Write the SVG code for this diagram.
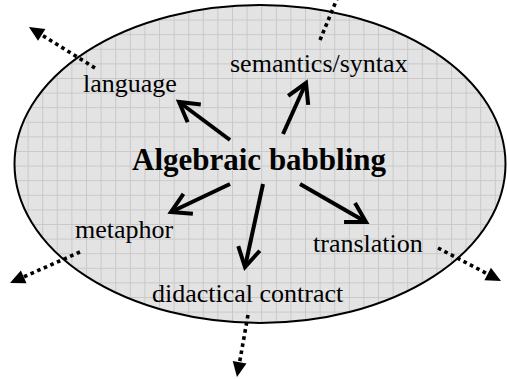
<svg xmlns="http://www.w3.org/2000/svg" width="507" height="379" viewBox="0 0 507 379">
<style>
.lbl{font-family:"Liberation Serif","Times New Roman",serif;font-size:26px;fill:#000}
.title{font-family:"Liberation Serif","Times New Roman",serif;font-size:31px;font-weight:bold;fill:#000}
.solid{stroke:#000;stroke-width:4;fill:none;marker-end:url(#vhead)}
.dotted{stroke:#000;stroke-width:3.6;stroke-dasharray:3.6 3.6;fill:none;marker-end:url(#tri)}
</style>
<defs>
<pattern id="grid" patternUnits="userSpaceOnUse" x="13" y="5" width="14.6" height="14.6">
<rect width="14.6" height="14.6" fill="#e3e3e3"/>
<path d="M0,0.5 H14.6 M0.5,0 V14.6" stroke="#c9c9c9" stroke-width="1" fill="none"/>
</pattern>
<marker id="vhead" markerUnits="userSpaceOnUse" viewBox="-24 -14 28 28" refX="0" refY="0" markerWidth="28" markerHeight="28" orient="auto" overflow="visible">
<path d="M-19,-11 L0,0 L-19,11" fill="none" stroke="#000" stroke-width="4"/>
</marker>
<marker id="tri" markerUnits="userSpaceOnUse" viewBox="0 -7 15 14" refX="0" refY="0" markerWidth="15" markerHeight="14" orient="auto" overflow="visible">
<path d="M0,-7 L15,0 L0,7 z" fill="#000"/>
</marker>
</defs>
<rect width="507" height="379" fill="#fff"/>
<g id="ellipse">
<ellipse cx="260" cy="164" rx="245.5" ry="159" fill="url(#grid)" stroke="#000" stroke-width="2"/>
</g>
<g id="connectors">
<line class="solid" x1="230" y1="140" x2="179" y2="102"/>
<line class="solid" x1="283" y1="134" x2="306" y2="83"/>
<line class="solid" x1="230" y1="184" x2="171" y2="212"/>
<line class="solid" x1="263" y1="184" x2="245" y2="267"/>
<line class="solid" x1="300" y1="184" x2="366" y2="222"/>
<line class="dotted" x1="95" y1="68" x2="41.7" y2="34.9"/>
<line class="dotted" x1="320" y1="40" x2="339" y2="-6"/>
<line class="dotted" x1="80" y1="252" x2="23.7" y2="276.9"/>
<line class="dotted" x1="438" y1="248" x2="487.7" y2="274"/>
<line class="dotted" x1="248" y1="315" x2="239.6" y2="362.2"/>
</g>
<g id="node-center"><text class="title" x="132" y="170">Algebraic babbling</text></g>
<g id="node-language"><text class="lbl" x="83" y="92">language</text></g>
<g id="node-semantics"><text class="lbl" x="230" y="72">semantics/syntax</text></g>
<g id="node-metaphor"><text class="lbl" x="75" y="238">metaphor</text></g>
<g id="node-translation"><text class="lbl" x="313" y="252">translation</text></g>
<g id="node-didactical"><text class="lbl" x="152" y="302">didactical contract</text></g>
</svg>
